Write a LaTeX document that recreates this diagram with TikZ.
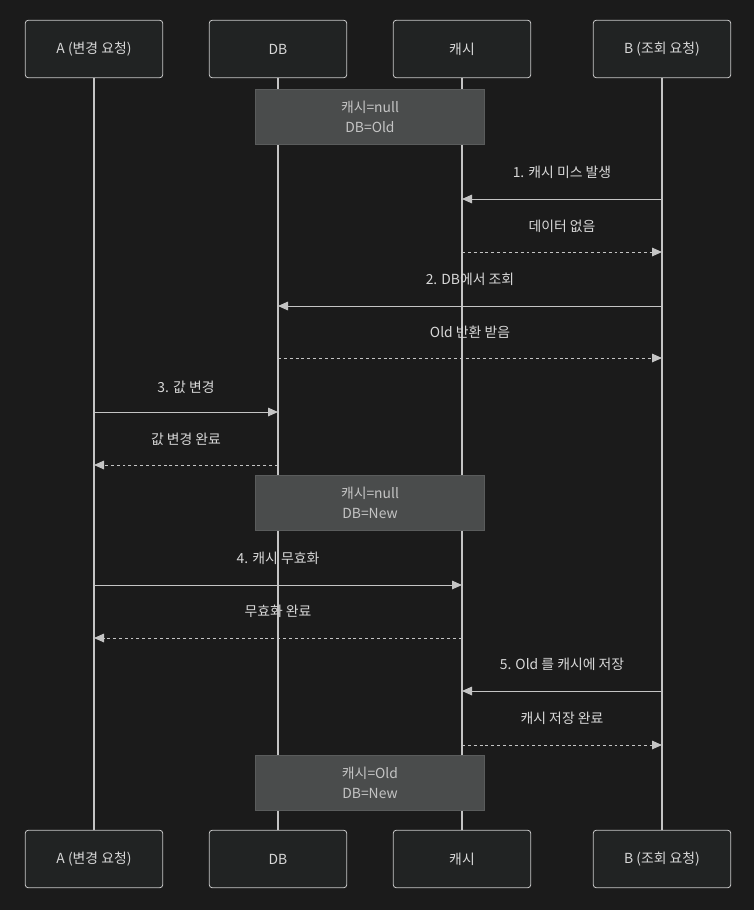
\documentclass[tikz,border=0pt]{standalone}
\usepackage{fontspec}
\setmainfont{Noto Sans CJK KR}
\usetikzlibrary{arrows.meta}
\definecolor{bgdark}{HTML}{1B1B1B}
\definecolor{boxfill}{HTML}{212323}
\definecolor{boxline}{HTML}{C8C8C8}
\definecolor{notefill}{HTML}{4A4C4C}
\definecolor{noteline}{HTML}{5A5C5C}
\definecolor{notetxt}{HTML}{C4C4C4}
\definecolor{txt}{HTML}{D8D8D8}
\definecolor{lifeline}{HTML}{C4C4C4}
\begin{document}
\begin{tikzpicture}[x=0.75pt, y=-0.75pt,
    actor/.style={draw=boxline, fill=boxfill, rounded corners=2pt, line width=0.6pt,
      minimum width=103pt, minimum height=43pt, text=txt, font=\fontsize{10.4}{12}\selectfont},
    note/.style={draw=noteline, fill=notefill, line width=0.6pt, minimum width=172pt,
      minimum height=41.5pt, align=center, text=notetxt, font=\fontsize{10.4}{14.5}\selectfont},
    life/.style={draw=lifeline, line width=0.9pt},
    msg/.style={draw=lifeline, line width=0.75pt, -{Triangle[length=7.5pt, width=6.5pt]}},
    reply/.style={msg, dash pattern=on 2.2pt off 2.2pt},
    lbl/.style={text=txt, font=\fontsize{10.4}{12}\selectfont}]
    % Background
    \fill[bgdark] (0,0) rectangle (754,910);

    % Participants
    \node[actor] (aTop) at (94,49) {A (변경 요청)};
    \node[actor] (dbTop) at (278,49) {DB};
    \node[actor] (cTop) at (462,49) {캐시};
    \node[actor] (bTop) at (662,49) {B (조회 요청)};
    \node[actor] (aBot) at (94,859) {A (변경 요청)};
    \node[actor] (dbBot) at (278,859) {DB};
    \node[actor] (cBot) at (462,859) {캐시};
    \node[actor] (bBot) at (662,859) {B (조회 요청)};

    % Lifelines
    \draw[life] (aTop) -- (aBot);
    \draw[life] (dbTop) -- (dbBot);
    \draw[life] (cTop) -- (cBot);
    \draw[life] (bTop) -- (bBot);

    % States
    \node[note] (s1) at (370,117) {캐시=null\\DB=Old};
    \node[note] (s2) at (370,503) {캐시=null\\DB=New};
    \node[note] (s3) at (370,783) {캐시=Old\\DB=New};

    % B reads while cache is empty
    \node[lbl] (l1) at (562,172) {1. 캐시 미스 발생};
    \draw[msg] (bTop |- 0,199) -- (cTop |- 0,199);
    \node[lbl] (l2) at (562,226) {데이터 없음};
    \draw[reply] (cTop |- 0,252) -- (bTop |- 0,252);
    \node[lbl] (l3) at (470,279) {2. DB에서 조회};
    \draw[msg] (bTop |- 0,306) -- (dbTop |- 0,306);
    \node[lbl] (l4) at (470,332) {Old 반환 받음};
    \draw[reply] (dbTop |- 0,358) -- (bTop |- 0,358);

    % A updates
    \node[lbl] (l5) at (186,387) {3. 값 변경};
    \draw[msg] (aTop |- 0,412) -- (dbTop |- 0,412);
    \node[lbl] (l6) at (186,439) {값 변경 완료};
    \draw[reply] (dbTop |- 0,465) -- (aTop |- 0,465);
    \node[lbl] (l7) at (278,558) {4. 캐시 무효화};
    \draw[msg] (aTop |- 0,585) -- (cTop |- 0,585);
    \node[lbl] (l8) at (278,611) {무효화 완료};
    \draw[reply] (cTop |- 0,638) -- (aTop |- 0,638);

    % B writes stale value
    \node[lbl] (l9) at (562,664) {5. Old 를 캐시에 저장};
    \draw[msg] (bTop |- 0,691) -- (cTop |- 0,691);
    \node[lbl] (l10) at (562,718) {캐시 저장 완료};
    \draw[reply] (cTop |- 0,745) -- (bTop |- 0,745);
\end{tikzpicture}
\end{document}
